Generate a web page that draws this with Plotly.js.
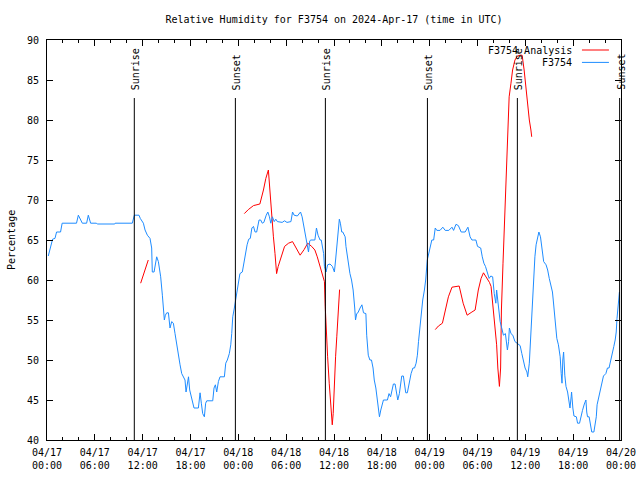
<!DOCTYPE html>
<html>
<head>
<meta charset="utf-8">
<script src="https://cdn.plot.ly/plotly-3.0.1.min.js"></script>
<style>html,body{margin:0;padding:0;background:#fff;}#chart{width:640px;height:480px;}</style>
</head>
<body>
<div id="chart"></div>
<script>
// Hours after 2024-04-17 00:00 UTC, and relative humidity (%)
const blueHours = [0.16,0.4,0.6,0.7,1.0,1.2,1.7,1.9,3.7,3.93,4.43,4.97,5.18,5.47,6.2,6.3,8.5,8.55,10.7,10.95,11.54,11.7,12.09,12.3,12.59,12.92,13.13,13.21,13.43,13.64,13.76,13.97,14.26,14.47,14.6,14.72,14.85,15.02,15.23,15.43,15.64,15.85,16.06,16.27,16.48,16.69,16.9,17.1,17.31,17.44,17.6,17.75,17.9,18.07,18.28,18.44,18.99,19.2,19.36,19.53,19.74,19.9,20.04,20.79,20.95,21.12,21.29,21.5,21.7,22.25,22.42,22.62,22.87,23.05,23.17,23.3,23.5,23.68,23.88,24.05,24.2,24.5,24.7,24.9,25.1,25.3,25.5,25.7,25.9,26.1,26.3,26.6,26.8,27.0,27.2,27.5,27.7,27.9,28.07,28.27,28.5,28.7,28.9,29.5,29.8,30.1,30.6,30.8,31.0,31.4,31.8,32.0,32.25,32.45,32.66,32.8,32.96,33.1,33.6,33.8,34.0,34.25,34.4,34.7,34.8,35.0,35.2,35.5,35.8,36.05,36.2,36.35,36.47,36.67,36.8,36.97,37.1,37.4,37.5,37.7,37.8,38.0,38.2,38.4,38.6,38.7,38.85,39.0,39.27,39.5,39.7,40.0,40.1,40.3,40.5,40.7,40.9,41.05,41.25,41.4,41.57,41.7,41.87,42.07,42.2,42.7,42.9,43.1,43.3,43.45,43.66,43.9,44.0,44.2,44.38,44.5,44.7,44.9,45.0,45.2,45.46,45.67,45.9,46.1,46.3,46.46,46.6,46.7,46.9,47.0,47.13,47.34,47.5,47.7,47.9,48.06,48.27,48.5,48.7,48.9,49.3,49.65,49.95,50.4,50.8,51.0,51.3,51.6,51.95,52.45,52.8,53.07,53.3,53.5,53.8,54.0,54.4,54.6,54.8,55.0,55.25,55.46,55.67,55.9,56.1,56.3,56.4,56.5,56.7,56.84,57.1,57.25,57.5,57.6,57.75,57.9,58.0,58.2,58.43,58.7,59.0,59.35,59.56,59.76,59.97,60.2,60.3,60.5,60.6,60.75,60.85,61.0,61.1,61.2,61.35,61.5,61.7,61.9,62.0,62.2,62.3,62.6,62.8,63.0,63.2,63.4,63.5,63.65,63.8,63.95,64.15,64.37,64.5,64.6,64.7,64.8,64.95,65.1,65.3,65.5,65.6,65.75,65.8,65.96,66.1,66.4,66.55,66.8,66.96,67.17,67.4,67.6,67.7,67.8,68.0,68.2,68.33,68.6,68.7,68.9,69.0,69.2,69.4,69.6,69.8,70.1,70.3,70.5,70.7,70.9,71.1,71.27,71.4,71.5,71.65,71.8];
const blueRH = [63.0,64.0,64.8,65.1,65.2,66.0,66.0,67.1,67.1,68.1,67.1,67.1,68.1,67.1,67.1,67.0,67.0,67.1,67.1,68.1,68.1,67.7,67.1,66.25,65.6,65.2,64.0,61.0,61.0,62.5,62.9,62.3,60.4,58.1,56.9,55.0,55.6,55.9,55.9,54.0,54.8,54.6,53.3,51.9,50.4,49.4,48.3,47.9,47.5,46.0,47.3,47.9,46.25,45.4,44.6,44.0,44.0,45.9,44.6,43.3,42.9,44.6,44.9,44.9,46.5,46.9,46.0,47.3,47.9,47.9,49.6,50.0,50.8,51.9,53.3,55.4,56.5,57.7,59.2,60.2,60.8,61.0,62.3,63.3,64.4,65.1,65.2,66.5,66.7,66.0,66.0,67.5,67.5,67.1,67.2,68.1,68.5,67.9,67.1,67.9,67.3,67.6,67.3,67.2,67.4,67.2,67.3,68.5,68.1,68.0,68.5,67.9,66.5,65.0,64.2,63.5,64.9,65.0,65.0,66.5,65.6,65.0,65.0,63.3,61.7,61.0,61.9,62.0,61.7,61.0,62.5,64.2,65.6,67.6,67.1,66.0,66.0,65.4,64.2,62.7,61.7,60.8,60.0,58.75,56.5,55.0,55.8,55.9,56.5,56.9,55.9,55.8,53.1,50.6,50.0,50.0,49.0,47.5,46.5,45.0,43.5,42.9,43.75,44.6,45.0,45.0,45.8,45.4,46.5,47.0,47.0,45.4,45.0,45.8,47.5,48.0,48.0,46.25,45.9,45.9,47.3,48.3,49.0,49.0,49.6,50.6,52.3,53.3,54.6,55.8,57.5,58.75,60.0,62.5,63.5,64.2,65.0,65.0,66.5,66.2,66.2,66.6,66.2,66.2,66.6,66.2,66.96,66.8,66.0,66.0,66.6,65.4,65.0,65.0,65.0,64.2,64.0,62.9,62.1,61.7,60.8,60.2,60.5,60.4,58.3,57.1,58.75,58.0,56.25,54.8,53.75,53.1,53.3,52.3,51.25,52.3,54.0,53.3,53.1,52.3,52.1,51.8,50.8,50.0,49.0,48.5,47.9,49.6,51.7,54.8,57.3,59.0,61.0,62.9,64.4,65.2,66.0,65.4,64.4,63.3,62.3,61.9,61.25,60.2,59.4,58.5,57.5,56.0,54.0,52.7,51.9,50.4,48.3,47.1,50.0,51.0,48.1,46.7,46.0,44.6,44.0,45.4,46.0,44.0,43.0,42.9,42.1,42.1,42.9,43.7,44.5,45.0,43.5,42.9,42.9,41.7,41.0,41.0,41.7,42.9,44.4,45.4,46.25,47.3,48.0,48.3,49.0,49.0,49.8,50.8,51.7,52.5,53.5,55.2,57.5,58.5];

const redHours = [11.75,12.2,12.7,null,24.75,25.25,25.9,26.7,27.15,27.45,27.77,28.0,28.2,28.4,28.6,28.8,29.0,29.4,29.8,30.3,30.8,31.25,31.75,32.25,32.7,33.2,33.6,33.9,34.25,34.5,34.8,34.9,35.05,35.2,35.4,35.6,35.78,35.9,36.05,36.2,36.35,36.47,36.64,36.7,null,48.7,49.1,49.6,49.9,50.35,50.8,51.2,51.7,52.2,52.7,53.3,53.7,54.1,54.45,54.75,55.1,55.5,55.7,55.9,56.1,56.3,56.4,56.55,56.7,56.75,56.9,57.0,57.2,57.35,57.55,57.7,57.8,57.97,58.2,58.4,58.7,59.0,59.35,59.6,59.85,60.1,60.3,60.5,60.7,60.8];
const redRH = [59.6,61.1,62.5,null,68.3,68.8,69.3,69.5,71.25,72.7,73.75,70.8,67.1,65.4,63.3,60.8,61.7,63.0,64.2,64.6,64.8,64.0,63.1,63.8,64.6,64.2,63.75,62.9,61.7,60.6,59.8,56.7,52.9,50.4,47.1,44.6,41.9,43.3,47.9,50.4,52.9,55.4,57.5,58.8,null,53.8,54.25,54.6,56.0,57.9,59.1,59.2,59.25,57.1,55.6,56.0,56.25,58.75,60.2,60.9,60.4,59.7,59.2,57.1,55.0,53.5,51.9,49.0,47.7,46.7,49.0,56.25,62.1,66.7,71.25,75.4,80.0,82.9,84.6,86.25,87.5,88.0,88.1,88.1,86.25,83.75,81.7,80.0,78.75,77.9];

const sunHours = [10.95,23.63,34.92,47.72,59.0,71.83];
const sunLabels = ["Sunrise","Sunset","Sunrise","Sunset","Sunrise","Sunset"];

const seriesNames = ["F3754 Analysis","F3754"];
const seriesColors = ["#ff0000","#1e8cff"];

function stamp(h){
  if (h === null) return null;
  const d = new Date(Date.UTC(2024,3,17) + Math.round(h*3600000));
  return d.toISOString().replace('T',' ').slice(0,19);
}

const FONT = 'DejaVu Sans Mono, monospace';

const traces = [
  {x: redHours.map(stamp), y: redRH, type:'scatter', mode:'lines', name:seriesNames[0],
   line:{color:seriesColors[0], width:1}, connectgaps:false, showlegend:false},
  {x: blueHours.map(stamp), y: blueRH, type:'scatter', mode:'lines', name:seriesNames[1],
   line:{color:seriesColors[1], width:1}, showlegend:false}
];

const shapes = sunHours.map(h => ({type:'line', xref:'x', yref:'y', x0:stamp(h), x1:stamp(h), y0:40, y1:82.75,
  line:{color:'black', width:1}}));

const annotations = sunHours.map((h,i) => ({xref:'x', yref:'y', x:stamp(h), y:83.5, text:sunLabels[i],
  textangle:-90, showarrow:false, xanchor:'center', yanchor:'bottom', xshift:1,
  font:{family:FONT, size:10, color:'black'}}));

// gnuplot-style key: text right, sample line on the right
const keyY = [0.975, 0.944];
seriesNames.forEach((n,i) => {
  annotations.push({xref:'paper', yref:'paper', x:0.918, y:keyY[i], text:n, showarrow:false,
    xanchor:'right', yanchor:'middle', font:{family:FONT, size:10, color:'black'}});
  shapes.push({type:'line', xref:'paper', yref:'paper', x0:0.932, x1:0.979, y0:keyY[i], y1:keyY[i],
    line:{color:seriesColors[i], width:1}});
});

annotations.push({xref:'paper', yref:'paper', x:-0.0627, y:0.5, text:'Percentage', textangle:-90,
  showarrow:false, xanchor:'center', yanchor:'middle', font:{family:FONT, size:10, color:'black'}});

const layout = {
  width:640, height:480,
  margin:{l:47, r:19, t:40, b:40, pad:0},
  paper_bgcolor:'white', plot_bgcolor:'white',
  font:{family:FONT, size:10, color:'black'},
  title:{text:'Relative Humidity for F3754 on 2024-Apr-17 (time in UTC)', x:0.5, xref:'paper',
    y:0.96, yref:'container', yanchor:'middle', font:{family:FONT, size:10, color:'black'}},
  showlegend:false,
  xaxis:{type:'date', range:[stamp(0), stamp(72)], dtick:21600000, tick0:stamp(0),
    tickformat:'%m/%d<br>%H:%M', ticks:'inside', ticklen:6, tickcolor:'black', tickwidth:1,
    minor:{dtick:7200000, ticks:'inside', ticklen:3, tickcolor:'black', tickwidth:1},
    showline:true, linecolor:'black', linewidth:1, mirror:'ticks', showgrid:false, zeroline:false,
    ticklabelstandoff:3,
    tickfont:{family:FONT, size:10, color:'black'}, automargin:false},
  yaxis:{range:[40,90], dtick:5, ticks:'inside', ticklen:6, tickcolor:'black', tickwidth:1,
    showline:true, linecolor:'black', linewidth:1, mirror:'ticks', showgrid:false, zeroline:false,
    ticklabelstandoff:5,
    tickfont:{family:FONT, size:10, color:'black'}, automargin:false},
  shapes:shapes,
  annotations:annotations
};

Plotly.newPlot('chart', traces, layout, {displayModeBar:false, staticPlot:true});
</script>
</body>
</html>
